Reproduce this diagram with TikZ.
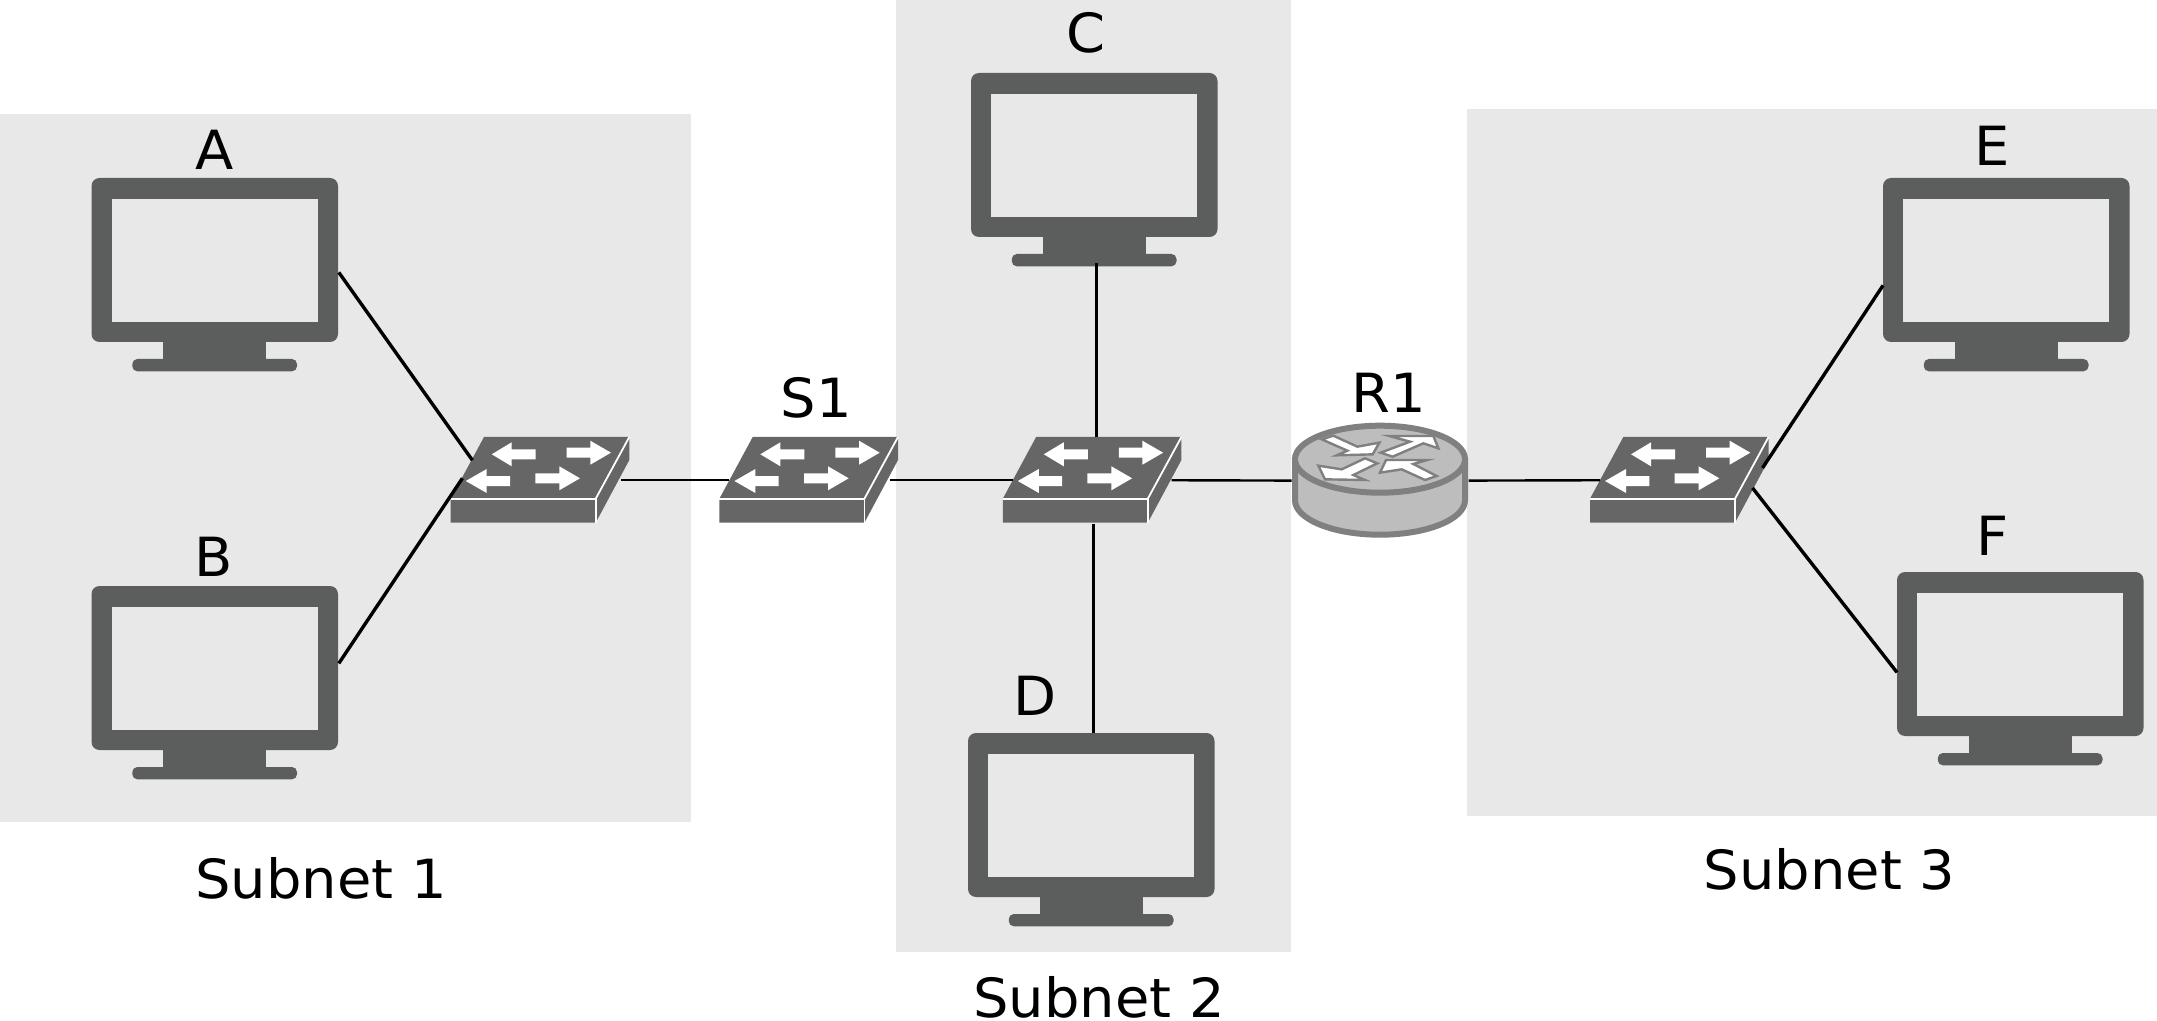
\documentclass[tikz,border=0pt]{standalone}
\usepackage{fontspec}
\setmainfont{DejaVu Sans}
\usetikzlibrary{calc}
\definecolor{subnetgrey}{HTML}{E8E8E8}
\definecolor{monitorgrey}{HTML}{5C5E5D}
\definecolor{switchgrey}{HTML}{666666}
\definecolor{routerfill}{HTML}{BDBDBD}
\definecolor{routeredge}{HTML}{808080}
\newcommand{\widetxt}[1]{\scalebox{1.035}[1]{#1}}
\tikzset{
  subnet/.style={fill=subnetgrey,draw=none},
  link/.style={draw=black,line width=1.2pt},
  slantlink/.style={draw=black,line width=1.7pt},
  lbl/.style={anchor=base,inner sep=0pt,font=\fontsize{27pt}{30pt}\selectfont},
  hull/.style={minimum width=123.25pt,minimum height=82pt,inner sep=0pt,draw=none,anchor=north west},
  sbox/.style={minimum width=89.3pt,minimum height=42.85pt,inner sep=0pt,draw=none,anchor=north west},
  rbox/.style={minimum width=88pt,minimum height=57.5pt,inner sep=0pt,draw=none,anchor=north west},
  monitor/.pic={
    \node[hull] (-body) at (0,0) {};
    \fill[monitorgrey,rounded corners=4pt] (0,0) rectangle (246.5,164);
    \fill[subnetgrey] (20.2,20.8) rectangle (226.2,144);
    \fill[monitorgrey] (71.8,163) rectangle (174.8,182);
    \fill[monitorgrey,rounded corners=2.5pt] (40.8,181) rectangle (205.5,193.3);
  },
  swarrow/.style={fill=white,draw=none},
  switchicon/.pic={
    \node[sbox] (-body) at (0,0) {};
    \fill[switchgrey] (0,61.7) -- (33.3,0) -- (178.6,0) -- (178.6,23) -- (145,85.7) -- (0,85.7) -- cycle;
    \draw[white,line width=0.9pt] (0,61.7) -- (145,61.7) -- (145,85.7);
    \draw[white,line width=0.9pt] (145,61.7) -- (178.6,0);
    \fill[swarrow] (41,17.3) -- (61,5.3) -- (61,12.3) -- (85,12.3) -- (85,22.3) -- (61,22.3) -- (61,29.3) -- cycle;
    \fill[swarrow] (116,10.7) -- (139.6,10.7) -- (139.6,3.7) -- (160.3,15.7) -- (139.6,27.7) -- (139.6,20.7) -- (116,20.7) -- cycle;
    \fill[swarrow] (15,44) -- (36,32) -- (36,39) -- (59.3,39) -- (59.3,49) -- (36,49) -- (36,56) -- cycle;
    \fill[swarrow] (84.6,36.3) -- (108.6,36.3) -- (108.6,29.3) -- (129.3,41.3) -- (108.6,53.3) -- (108.6,46.3) -- (84.6,46.3) -- cycle;
  },
}
\begin{document}
\begin{tikzpicture}[x=0.5pt,y=-0.5pt]
\useasboundingbox (0,0) rectangle (2157,1021);
\fill[white] (0,0) rectangle (2157,1021);
\fill[subnet] (0,114) rectangle (690.5,822);
\fill[subnet] (895.5,0) rectangle (1290.5,952);
\fill[subnet] (1467,108.7) rectangle (2157,816);

\pic (A) at (91.5,178) {monitor};
\pic (B) at (91.5,586) {monitor};
\pic (C) at (971,73) {monitor};
\pic (D) at (968,733) {monitor};
\pic (E) at (1883,178) {monitor};
\pic (F) at (1897,572) {monitor};

\node[rbox] (R1) at (1291.7,422.7) {};

\pic (SWa) at (450.7,437) {switchicon};
\pic (S1) at (719.4,437) {switchicon};
\pic (SWb) at (1002.8,437) {switchicon};
\pic (SWc) at (1590,437) {switchicon};

% connectors
\coordinate (cfoot) at ($(C-body.south)+(2,25)$);
\coordinate (dtop) at ($(D-body.north)+(2,0)$);
\draw[slantlink] ($(A-body.east)+(0,12)$) -- ($(SWa-body.center)+(-68,-20)$);
\draw[slantlink] ($(B-body.east)+(0,-5)$) -- ($(SWa-body.center)+(-78,-2)$);
\draw[link] ($(SWa-body.east)+(-9,0)$) -- ($(S1-body.west)+(10,0)$);
\draw[link] ($(S1-body.east)+(-9,0)$) -- ($(SWb-body.west)+(10,0)$);
\draw[link] (cfoot) -- (cfoot |- SWb-body.north);
\draw[link] (dtop |- SWb-body.south) -- (dtop);
\draw[link] ($(SWb-body.east)+(-10.7,0)$) -- (R1.west);
\draw[link] (R1.east) -- ($(SWc-body.west)+(10,0)$);
\draw[slantlink] ($(SWc-body.east)+(-6.9,-12.3)$) -- ($(E-body.west)+(0,25)$);
\draw[slantlink] ($(SWc-body.east)+(-16.9,7.7)$) -- ($(F-body.west)+(0,18)$);

% router
\begin{scope}[shift={(1380,459.2)}]
  \draw[routeredge,fill=routerfill,line width=3pt]
    (-85,0) -- (-85,41) arc[start angle=180,end angle=360,x radius=85,y radius=-34.5] -- (85,0);
  \draw[routeredge,fill=routerfill,line width=3pt] (0,0) ellipse[x radius=85,y radius=33.5];
\end{scope}
\begin{scope}[shift={(1270,400)},x=0.16667pt,y=-0.16667pt]
  \tikzset{rarrow/.style={fill=white,draw=routeredge,line width=1.2pt,line join=miter}}
  \draw[rarrow] (155,118) -- (190,107) -- (262,140) -- (328,128) -- (308,163) -- (200,166) -- (232,152) -- cycle;
  \draw[rarrow] (332,158) -- (420,125) -- (358,108) -- (490,108) -- (505,145) -- (460,130) -- (368,170) -- cycle;
  \draw[rarrow] (322,190) -- (285,175) -- (215,208) -- (145,197) -- (165,238) -- (285,240) -- (250,225) -- cycle;
  \draw[rarrow] (500,228) -- (465,240) -- (395,208) -- (330,218) -- (348,180) -- (472,180) -- (430,192) -- cycle;
\end{scope}

% labels
\node[lbl] (lA) at (215,170) {\widetxt{A}};
\node[lbl] (lB) at (213.5,576) {\widetxt{B}};
\node[lbl] (lC) at (1086,53) {\widetxt{C}};
\node[lbl] (lS) at (816.5,417.5) {\widetxt{S1}};
\node[lbl] (lR) at (1388.5,412.5) {\widetxt{R1}};
\node[lbl] (lD) at (1035,715) {\widetxt{D}};
\node[lbl] (lE) at (1992,166) {\widetxt{E}};
\node[lbl] (lF) at (1993,555) {\widetxt{F}};
\node[lbl] (n1) at (321,898) {\widetxt{Subnet 1}};
\node[lbl] (n2) at (1099,1017.5) {\widetxt{Subnet 2}};
\node[lbl] (n3) at (1829.5,889.5) {\widetxt{Subnet 3}};
\end{tikzpicture}
\end{document}
